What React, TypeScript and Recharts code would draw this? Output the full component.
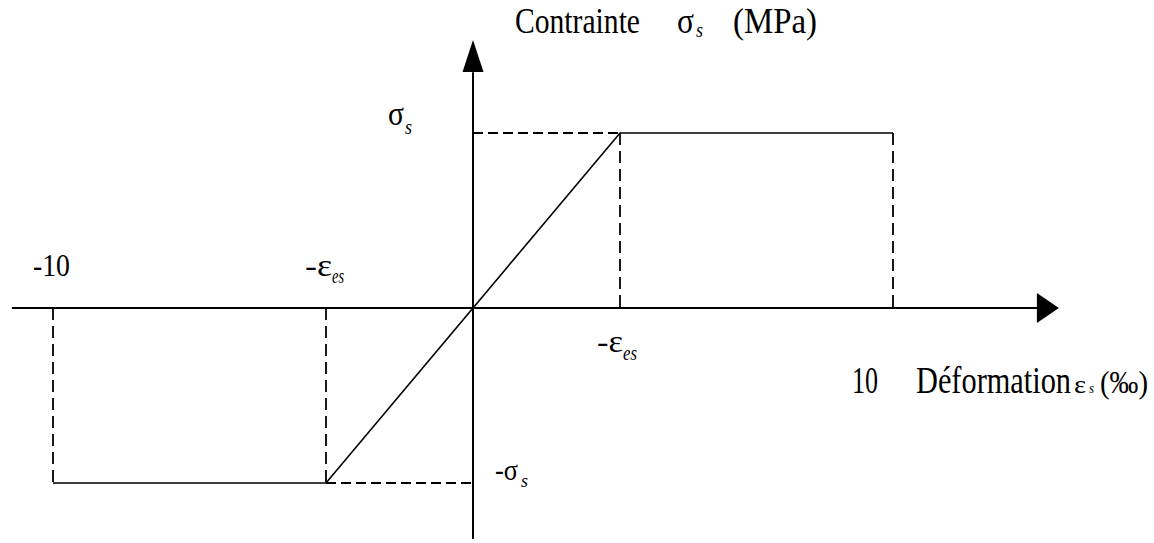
import { ComposedChart, Line, Scatter, XAxis, YAxis } from 'recharts';

// strain in per mille, stress in MPa (symbolic: sigma_s, eps_es)
const EPS_MAX = 10;
const EPS_ES = 3.5;
const SIGMA_S = 348;

const stressStrain = [
  { x: -EPS_MAX, y: -SIGMA_S },
  { x: -EPS_ES, y: -SIGMA_S },
  { x: EPS_ES, y: SIGMA_S },
  { x: EPS_MAX, y: SIGMA_S },
];

const xAxisLine = [
  { x: -10.98, y: 0 },
  { x: 13.45, y: 0 },
];
const yAxisLine = [
  { x: 0, y: -460 },
  { x: 0, y: 469 },
];

const dashedH = [
  [{ x: 0, y: SIGMA_S }, { x: EPS_ES, y: SIGMA_S }],
  [{ x: -EPS_ES, y: -SIGMA_S }, { x: 0, y: -SIGMA_S }],
];
const dashedV = [
  [{ x: EPS_ES, y: SIGMA_S }, { x: EPS_ES, y: 0 }],
  [{ x: EPS_MAX, y: SIGMA_S }, { x: EPS_MAX, y: 0 }],
  [{ x: -EPS_MAX, y: 0 }, { x: -EPS_MAX, y: -SIGMA_S }],
  [{ x: -EPS_ES, y: 0 }, { x: -EPS_ES, y: -SIGMA_S }],
];

const xArrowTip = [{ x: 13.95, y: 0 }];
const yArrowTip = [{ x: 0, y: 533 }];

const FONT = '"Liberation Serif", "Times New Roman", serif';

const XArrow = (props: any) => {
  const { cx, cy } = props;
  return <polygon points={`${cx},${cy} ${cx - 22},${cy - 15} ${cx - 22},${cy + 15}`} fill="#000" />;
};

const YArrow = (props: any) => {
  const { cx, cy } = props;
  return <polygon points={`${cx},${cy} ${cx - 10.5},${cy + 32} ${cx + 10.5},${cy + 32}`} fill="#000" />;
};

// one text made of pieces: [content, x, baseline y, font size, width, italic]
type Piece = [string, number, number, number, number, boolean?];

function Label({ parts }: { parts: Piece[] }) {
  return (
    <text fontFamily={FONT} fill="#000">
      {parts.map(([t, x, y, size, len, italic], i) => (
        <tspan
          key={i}
          x={x}
          y={y}
          fontSize={size}
          fontStyle={italic ? 'italic' : 'normal'}
          textLength={len}
          lengthAdjust="spacingAndGlyphs"
        >
          {t}
        </tspan>
      ))}
    </text>
  );
}

export default function App() {
  return (
    <div style={{ position: 'absolute', left: 0, top: 0, width: 1154, height: 543, background: '#fff' }}>
      <ComposedChart width={1154} height={543} margin={{ top: 6.3, right: 9, bottom: 3.7, left: 11 }}>
        <XAxis type="number" dataKey="x" domain={[-11, 16]} hide allowDataOverflow />
        <YAxis type="number" dataKey="y" domain={[-460, 600]} hide allowDataOverflow />
        <Line data={xAxisLine} dataKey="y" stroke="#000" strokeWidth={2} dot={false} activeDot={false} isAnimationActive={false} />
        <Line data={yAxisLine} dataKey="y" stroke="#000" strokeWidth={2} dot={false} activeDot={false} isAnimationActive={false} />
        {dashedH.map((d, i) => (
          <Line key={`h${i}`} data={d} dataKey="y" stroke="#000" strokeWidth={2} strokeDasharray="10 5" dot={false} activeDot={false} isAnimationActive={false} />
        ))}
        {dashedV.map((d, i) => (
          <Line key={`v${i}`} data={d} dataKey="y" stroke="#000" strokeWidth={1.8} strokeDasharray="12 6" dot={false} activeDot={false} isAnimationActive={false} />
        ))}
        <Line data={stressStrain} dataKey="y" type="linear" stroke="#000" strokeWidth={1.6} dot={false} activeDot={false} isAnimationActive={false} />
        <Scatter data={xArrowTip} dataKey="y" shape={XArrow} isAnimationActive={false} />
        <Scatter data={yArrowTip} dataKey="y" shape={YArrow} isAnimationActive={false} />
      </ComposedChart>
      <svg width={1154} height={543} style={{ position: 'absolute', left: 0, top: 0, pointerEvents: 'none' }}>
        <Label
          parts={[
            ['Contrainte', 515, 33, 36, 125],
            ['σ', 677, 33, 36, 17],
            ['s', 696, 37, 20, 7, true],
            ['(MPa)', 733, 33, 36, 84],
          ]}
        />
        <Label parts={[['σ', 388, 125, 34, 16], ['s', 405, 134, 20, 7, true]]} />
        <Label parts={[['-10', 33, 276, 32, 37]]} />
        <Label parts={[['-ε', 305, 276, 32, 27], ['es', 332, 283, 20, 12, true]]} />
        <Label parts={[['-ε', 597, 352, 32, 26], ['es', 623, 360, 20, 14, true]]} />
        <Label parts={[['10', 852, 393, 38, 26]]} />
        <Label parts={[['Déformation', 916, 393, 37, 155]]} />
        <Label parts={[['ε', 1074, 393, 26, 12], ['s', 1089, 393, 15, 5, true], ['(‰)', 1100, 393, 31, 48]]} />
        <Label parts={[['-σ', 495, 480, 30, 23], ['s', 521, 487, 19, 7, true]]} />
      </svg>
    </div>
  );
}
